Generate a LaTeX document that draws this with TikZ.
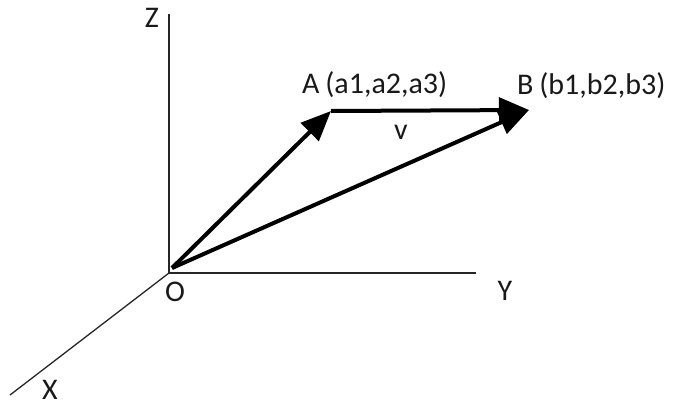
\documentclass[tikz,border=0pt]{standalone}
\usepackage{fontspec}
\setmainfont{Carlito}
\usetikzlibrary{arrows.meta}
\begin{document}
\begin{tikzpicture}[x=1pt,y=-1pt,
  axis/.style={line width=1.3pt, black!85},
  vec/.style={line width=4pt, -{Triangle[length=30pt,width=25pt]}},
  lbl/.style={font=\fontsize{30}{34}\selectfont, inner sep=0pt, text=black!90}]
\useasboundingbox (0,0) rectangle (674,407);
\coordinate (O) at (169,273);
\coordinate (Zend) at (169,14);
\coordinate (Yend) at (476,273);
\coordinate (Xend) at (10,395);
\coordinate (Ov) at (172,268);
\coordinate (A) at (331,111);
\coordinate (B) at (529,110);
\draw[axis] (O) -- (Zend);
\draw[axis] (O) -- (Yend);
\draw[axis] (O) -- (Xend);
\draw[vec] (Ov) -- (A);
\draw[vec] (A) -- (B);
\draw[vec] (Ov) -- (B);
\node[lbl] (zl) at (152,18) {Z};
\node[lbl] (yl) at (505,291) {Y};
\node[lbl] (ol) at (175,292) {O};
\node[lbl] (xl) at (50,390) {X};
\node[lbl] (vl) at (401,132) {v};
\node[lbl, anchor=base west] (al) at (302,93) {A\hspace{-1pt} (a1,a2,a3)};
\node[lbl, anchor=base west] (bl) at (517,94) {B\hspace{-1pt} (b1,b2,b3)};
\end{tikzpicture}
\end{document}
